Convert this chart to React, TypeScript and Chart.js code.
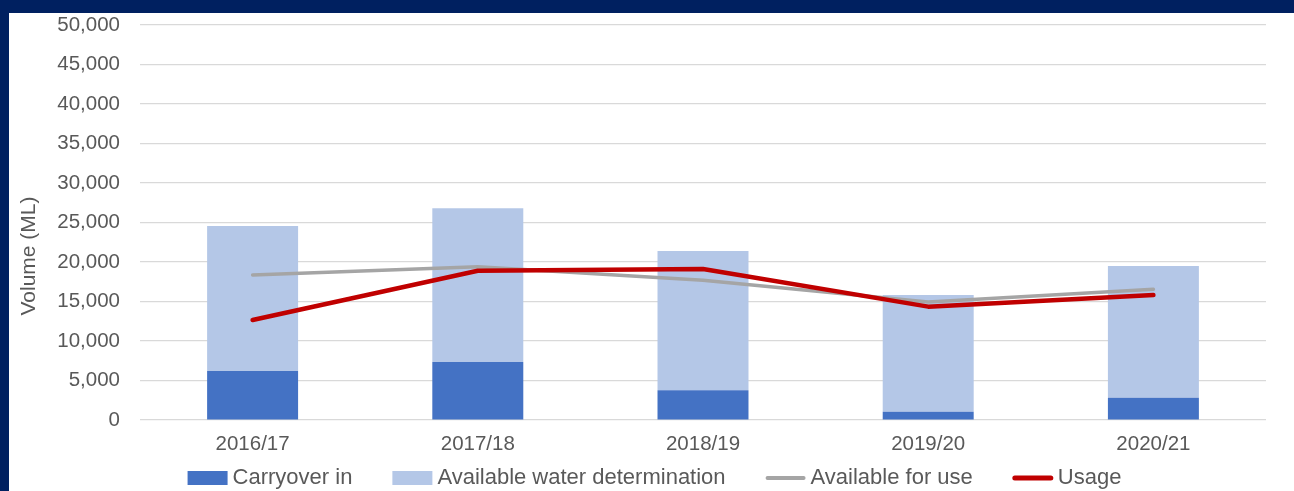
import React, { useEffect, useRef } from 'react';
import { Chart, registerables } from 'chart.js';

Chart.register(...registerables);

// ---- data ----
const categories = ['2016/17', '2017/18', '2018/19', '2019/20', '2020/21'];
const carryoverIn = [6200, 7340, 3760, 1050, 2820];
const availableWaterDetermination = [18360, 19460, 17630, 14770, 16670];
const availableForUse = [18350, 19400, 17700, 14950, 16550];
const usage = [12660, 18900, 19110, 14350, 15820];
const yMin = 0;
const yMax = 50000;
const yStep = 5000;
const yTitle = 'Volume (ML)';

const NAVY = '#002060';
const TEXT = '#595959';
const FONT = '"Liberation Sans", Arial, sans-serif';

const legendPlugin = {
  id: 'customLegend',
  afterDraw(chart: any) {
    const ctx = chart.ctx as CanvasRenderingContext2D;
    const boxW = 40;
    const boxH = 14;
    const gap = 5;
    const itemGap = 40;
    ctx.save();
    // axis title (Volume (ML)), placed as in the reference
    ctx.font = `21px ${FONT}`;
    ctx.fillStyle = TEXT;
    ctx.textAlign = 'center';
    ctx.textBaseline = 'middle';
    ctx.translate(20, 243);
    ctx.rotate(-Math.PI / 2);
    ctx.fillText(yTitle, 0, 0);
    ctx.setTransform(1, 0, 0, 1, 0, 0);

    ctx.font = `22px ${FONT}`;
    const items = chart.data.datasets.map((ds: any) => ({
      label: ds.label as string,
      kind: ds.type === 'line' ? 'line' : 'box',
      color: ds.type === 'line' ? ds.borderColor : ds.backgroundColor,
      lw: ds.borderWidth || 0,
      w: ctx.measureText(ds.label).width,
    }));
    const total =
      items.reduce((s: number, it: any) => s + boxW + gap + it.w, 0) + itemGap * (items.length - 1);
    let x = chart.width / 2 + 3 - total / 2;
    const cy = chart.height - 13;
    ctx.textBaseline = 'middle';
    ctx.textAlign = 'left';
    for (const it of items) {
      if (it.kind === 'box') {
        ctx.fillStyle = it.color;
        ctx.fillRect(x, cy - boxH / 2, boxW, boxH);
      } else {
        ctx.strokeStyle = it.color;
        ctx.lineWidth = it.lw + 0.5;
        ctx.lineCap = 'round';
        ctx.beginPath();
        ctx.moveTo(x + 2, cy);
        ctx.lineTo(x + boxW - 2, cy);
        ctx.stroke();
      }
      ctx.fillStyle = TEXT;
      ctx.fillText(it.label, x + boxW + gap, cy);
      x += boxW + gap + it.w + itemGap;
    }
    ctx.restore();
  },
};

export default function App() {
  const ref = useRef<HTMLCanvasElement>(null);

  useEffect(() => {
    Chart.defaults.font.family = FONT;
    const chart = new Chart(ref.current!, {
      type: 'bar',
      data: {
        labels: categories,
        datasets: [
          {
            type: 'bar',
            label: 'Carryover in',
            data: carryoverIn,
            backgroundColor: '#4472c4',
            stack: 'volume',
            order: 2,
            barPercentage: 0.404,
            categoryPercentage: 1,
          },
          {
            type: 'bar',
            label: 'Available water determination',
            data: availableWaterDetermination,
            backgroundColor: '#b4c7e7',
            stack: 'volume',
            order: 2,
            barPercentage: 0.404,
            categoryPercentage: 1,
          },
          {
            type: 'line',
            label: 'Available for use',
            data: availableForUse,
            borderColor: '#a5a5a5',
            backgroundColor: '#a5a5a5',
            borderWidth: 3.5,
            pointRadius: 0,
            fill: false,
            tension: 0,
            stack: 'afu',
            order: 1,
            borderJoinStyle: 'round',
            borderCapStyle: 'round',
          },
          {
            type: 'line',
            label: 'Usage',
            data: usage,
            borderColor: '#c00000',
            backgroundColor: '#c00000',
            borderWidth: 4.5,
            pointRadius: 0,
            fill: false,
            tension: 0,
            stack: 'usage',
            order: 0,
            borderJoinStyle: 'round',
            borderCapStyle: 'round',
          },
        ] as any,
      },
      options: {
        animation: false,
        responsive: false,
        layout: { padding: { left: 0, right: 28, top: 12, bottom: 32 } },
        plugins: {
          legend: { display: false },
          tooltip: { enabled: false },
        },
        scales: {
          x: {
            stacked: true,
            grid: { display: false },
            border: { display: false },
            ticks: { color: TEXT, font: { size: 20.5 }, padding: 4, maxRotation: 0 },
            afterFit: (s: any) => {
              s.height = 39;
            },
          },
          y: {
            stacked: true,
            min: yMin,
            max: yMax,
            ticks: { stepSize: yStep, color: TEXT, font: { size: 20.5 }, padding: 20 },
            grid: { color: '#d9d9d9', drawTicks: false, lineWidth: 1.2 },
            border: { display: false },
            afterFit: (s: any) => {
              s.width = 131;
              s.paddingTop = 0;
              s.paddingBottom = 0;
            },
          },
        },
      } as any,
      plugins: [legendPlugin],
    });
    return () => chart.destroy();
  }, []);

  return (
    <div
      style={{
        position: 'fixed',
        left: 0,
        top: 0,
        width: 1294,
        height: 491,
        background: NAVY,
        overflow: 'hidden',
      }}
    >
      <div
        style={{
          position: 'absolute',
          left: 9,
          top: 13,
          width: 1285,
          height: 478,
          background: '#ffffff',
        }}
      >
        <canvas ref={ref} width={1285} height={478} style={{ display: 'block' }} />
      </div>
    </div>
  );
}
